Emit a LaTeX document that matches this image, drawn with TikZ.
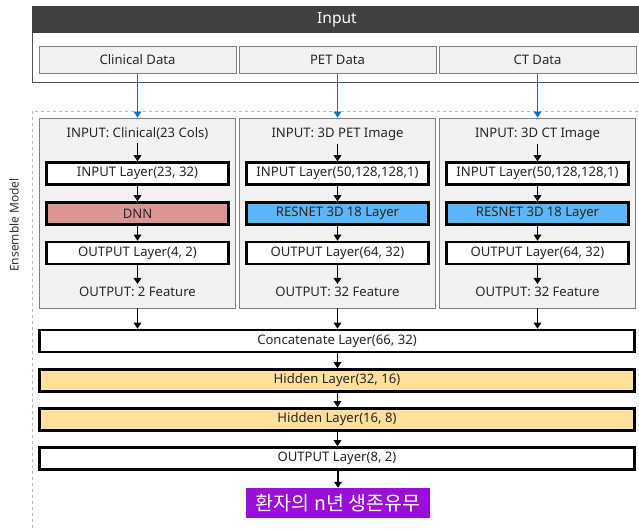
\documentclass[tikz,border=0pt]{standalone}
\usepackage{fontspec}
\setmainfont{Noto Sans}
\newfontfamily\krfont{Noto Sans CJK KR}
\usetikzlibrary{arrows.meta}
\definecolor{hdr}{HTML}{404040}
\definecolor{panelfill}{HTML}{F2F2F2}
\definecolor{panelline}{HTML}{808080}
\definecolor{dnnfill}{HTML}{D99694}
\definecolor{resfill}{HTML}{5CB5F7}
\definecolor{hidfill}{HTML}{FFE19C}
\definecolor{purp}{HTML}{9A0FD6}
\definecolor{bluearr}{HTML}{0A6EC4}
\tikzset{
  txt/.style={font=\fontsize{13.1}{15}\selectfont, text=black!85},
  datbox/.style={txt, draw=panelline, line width=0.9pt, fill=panelfill, minimum height=27pt, inner sep=0pt},
  panelbox/.style={draw=panelline, line width=0.9pt, fill=panelfill, inner sep=0pt},
  layerbox/.style={txt, draw=black, line width=2.6pt, fill=white, minimum height=22pt, inner sep=0pt},
  ptext/.style={txt, inner sep=0pt},
  flow/.style={line width=1.8pt, -{Triangle[length=6pt,width=7.5pt]}},
  bflow/.style={bluearr, line width=1.6pt, -{Triangle[length=6pt,width=7.5pt]}},
}
\begin{document}
\begin{tikzpicture}[x=1pt,y=-1pt]
\clip (0,0) rectangle (639,528);
\fill[white] (0,0) rectangle (639,528);
% input block
\draw[draw=hdr!90, line width=0.9pt, fill=white] (32,6) rectangle (650,82);
\fill[hdr] (32,6) rectangle (650,33);
\node[text=white, font=\fontsize{15.5}{17}\selectfont] (inp) at (337,20) {Input};
\node[datbox, minimum width=197pt] (cd) at (137.5,60) {Clinical Data};
\node[datbox, minimum width=197pt] (pd) at (337.5,60) {PET Data};
\node[datbox, minimum width=197pt] (ctd) at (537.5,60) {CT Data};
% ensemble dashed box
\draw[gray!55, dashed, line width=0.7pt] (32,111) rectangle (650,540);
\node[font=\fontsize{12}{14}\selectfont, text=black!80, rotate=90] (ens) at (14,225) {Ensemble Model};
% panels
\node[panelbox, minimum width=196pt, minimum height=190pt] (p1) at (137.5,213) {};
\node[panelbox, minimum width=196pt, minimum height=190pt] (p2) at (337.5,213) {};
\node[panelbox, minimum width=196pt, minimum height=190pt] (p3) at (537.5,213) {};
\draw[bflow] (cd.south) -- (p1.north);
\draw[bflow] (pd.south) -- (p2.north);
\draw[bflow] (ctd.south) -- (p3.north);
% branch 1
\node[ptext] (i1) at (137.5,134) {INPUT: Clinical(23 Cols)};
\node[layerbox, minimum width=182pt] (l11) at (137.5,173.5) {INPUT Layer(23, 32)};
\node[layerbox, minimum width=182pt, fill=dnnfill] (l12) at (137.5,213.5) {DNN};
\node[layerbox, minimum width=182pt] (l13) at (137.5,253) {OUTPUT Layer(4, 2)};
\node[ptext] (o1) at (137.5,292) {OUTPUT: 2 Feature};
% branch 2
\node[ptext] (i2) at (337.5,134) {INPUT: 3D PET Image};
\node[layerbox, minimum width=182pt] (l21) at (337.5,173.5) {INPUT Layer(50,128,128,1)};
\node[layerbox, minimum width=182pt, fill=resfill] (l22) at (337.5,213.5) {RESNET 3D 18 Layer};
\node[layerbox, minimum width=182pt] (l23) at (337.5,253) {OUTPUT Layer(64, 32)};
\node[ptext] (o2) at (337.5,292) {OUTPUT: 32 Feature};
% branch 3
\node[ptext] (i3) at (537.5,134) {INPUT: 3D CT Image};
\node[layerbox, minimum width=182pt] (l31) at (537.5,173.5) {INPUT Layer(50,128,128,1)};
\node[layerbox, minimum width=182pt, fill=resfill] (l32) at (537.5,213.5) {RESNET 3D 18 Layer};
\node[layerbox, minimum width=182pt] (l33) at (537.5,253) {OUTPUT Layer(64, 32)};
\node[ptext] (o3) at (537.5,292) {OUTPUT: 32 Feature};
\foreach \b in {1,2,3}{
  \draw[flow] ([yshift=-3pt]i\b.south) -- (l\b1.north);
  \draw[flow] (l\b1.south) -- (l\b2.north);
  \draw[flow] (l\b2.south) -- (l\b3.north);
  \draw[flow] (l\b3.south) -- ([yshift=3pt]o\b.north);
}
% merge layers
\node[layerbox, minimum width=595pt] (cat) at (337,341) {Concatenate Layer(66, 32)};
\node[layerbox, minimum width=595pt, fill=hidfill] (h1) at (337,380.5) {Hidden Layer(32, 16)};
\node[layerbox, minimum width=595pt, fill=hidfill] (h2) at (337,419.5) {Hidden Layer(16, 8)};
\node[layerbox, minimum width=595pt] (out) at (337,458.5) {OUTPUT Layer(8, 2)};
\node[fill=purp, text=white, minimum width=184pt, minimum height=30pt, inner sep=0pt, font=\krfont\fontsize{19.5}{21}\selectfont] (res) at (338,503) {환자의 n년 생존유무};
\draw[flow] (p1.south) -- (p1.south |- cat.north);
\draw[flow] (p2.south) -- (p2.south |- cat.north);
\draw[flow] (p3.south) -- (p3.south |- cat.north);
\draw[flow] (cat.south -| l21.south) -- (h1.north -| l21.south);
\draw[flow] (h1.south -| l21.south) -- (h2.north -| l21.south);
\draw[flow] (h2.south -| l21.south) -- (out.north -| l21.south);
\draw[flow] (out.south -| res.north) -- (res.north);
\end{tikzpicture}
\end{document}
